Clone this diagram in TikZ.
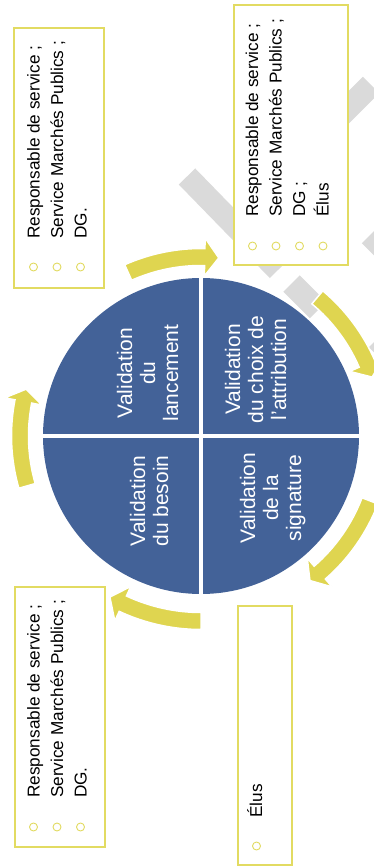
\documentclass[tikz,border=0pt]{standalone}
\usepackage{fontspec}
\setmainfont{Liberation Sans}
\definecolor{cblue}{RGB}{67,98,152}
\definecolor{cyellow}{RGB}{223,213,80}
\definecolor{cbox}{RGB}{226,219,98}
\definecolor{cgray}{RGB}{218,218,218}
\tikzset{
  qtext/.style={text=white, font=\fontsize{21}{23}\selectfont, rotate=90, anchor=base, inner sep=0pt},
  btext/.style={text=black, font=\fontsize{17.2}{23}\selectfont, rotate=90, anchor=base west, inner sep=0pt},
  infobox/.style={rectangle, draw=cbox, fill=white, line width=1.6pt, inner sep=0pt},
  bulletmark/.style={circle, draw=cbox, line width=0.9pt, minimum size=8pt, inner sep=0pt},
  grayband/.style={draw=cgray, line width=23pt},
  cyclearrowstyle/.style={fill=cyellow, draw=white, line width=1.5pt},
}
% #1 tail angle, #2 head base angle, #3 tip angle, #4 mid radius
\newcommand{\cyclearrow}[4]{%
  \pgfmathsetmacro{\cyRi}{#4-8.5}\pgfmathsetmacro{\cyRo}{#4+8.5}%
  \pgfmathsetmacro{\cyHi}{#4-19}\pgfmathsetmacro{\cyHo}{#4+19}%
  \filldraw[cyclearrowstyle] (#1:\cyRi) arc[start angle=#1, end angle=#2, radius=\cyRi]
    -- (#2:\cyHi) -- (#3:#4) -- (#2:\cyHo) -- (#2:\cyRo)
    arc[start angle=#2, end angle=#1, radius=\cyRo] -- cycle;}
\begin{document}
\begin{tikzpicture}[x=1pt,y=1pt]
\useasboundingbox (0,0) rectangle (374,-866);
\clip (0,0) rectangle (374,-866);

% gray background bands
\draw[grayband] (187,-176.5) -- (278,-270);
\draw[grayband] (291.5,-283.5) -- (318,-310);
\draw[grayband] (371,-85) -- (300,-156);
\draw[grayband] (370,-235) -- (420,-285);
\draw[grayband] (377,-339) -- (420,-382);

% central circle
\node[circle, fill=cblue, minimum size=316pt, inner sep=0pt] (c) at (201,-436) {};
\draw[white, line width=4pt] ([yshift=2pt]c.north) -- ([yshift=-2pt]c.south);
\draw[white, line width=4pt] ([xshift=-2pt]c.west) -- ([xshift=2pt]c.east);

% cycle arrows
\begin{scope}[shift={(c.center)}]
  \cyclearrow{196}{169}{165}{181}
  \cyclearrow{114}{88.8}{84.3}{179}
  \cyclearrow{50}{23.5}{19}{181}
  \cyclearrow{-21}{-49}{-53}{181}
  \cyclearrow{270}{245}{240.5}{185}
\end{scope}

% quadrant texts
\node[qtext] (q1a) at (132,-373) {Validation};
\node[qtext] (q1b) at (155,-373) {du};
\node[qtext] (q1c) at (178,-373) {lancement};
\node[qtext] (q2a) at (240,-369.5) {Validation};
\node[qtext] (q2b) at (263,-369.5) {du choix de};
\node[qtext] (q2c) at (286,-369.5) {l'attribution};
\node[qtext] (q3a) at (145,-501) {Validation};
\node[qtext] (q3b) at (168,-501) {du besoin};
\node[qtext] (q4a) at (255,-498) {Validation};
\node[qtext] (q4b) at (278,-498) {de la};
\node[qtext] (q4c) at (301,-498) {signature};

% box 1 (top left)
\node[infobox, minimum width=90pt, minimum height=260pt] (b1) at (59,-158) {};
\node[btext] (b1l1) at (39.5,-239) {Responsable de service ;};
\node[btext] (b1l2) at (63,-239) {Service Marchés Publics ;};
\node[btext] (b1l3) at (86.5,-239) {DG.};
\node[bulletmark] (b1d1) at (33.5,-267) {};
\node[bulletmark] (b1d2) at (57,-267) {};
\node[bulletmark] (b1d3) at (80.5,-267) {};

% box 2 (top right)
\node[infobox, minimum width=114pt, minimum height=260pt] (b2) at (291,-135) {};
\node[btext] (b2l1) at (258,-217) {Responsable de service ;};
\node[btext] (b2l2) at (281.5,-217) {Service Marchés Publics ;};
\node[btext] (b2l3) at (305,-217) {DG ;};
\node[btext] (b2l4) at (328.5,-217) {Élus};
\node[bulletmark] (b2d1) at (252.5,-246) {};
\node[bulletmark] (b2d2) at (276,-246) {};
\node[bulletmark] (b2d3) at (299.5,-246) {};
\node[bulletmark] (b2d4) at (323,-246) {};

% box 3 (bottom left)
\node[infobox, minimum width=90pt, minimum height=260pt] (b3) at (60,-717) {};
\node[btext] (b3l1) at (39.5,-798) {Responsable de service ;};
\node[btext] (b3l2) at (63,-798) {Service Marchés Publics ;};
\node[btext] (b3l3) at (86.5,-798) {DG.};
\node[bulletmark] (b3d1) at (33.5,-827) {};
\node[bulletmark] (b3d2) at (57,-827) {};
\node[bulletmark] (b3d3) at (80.5,-827) {};

% box 4 (bottom right)
\node[infobox, minimum width=54pt, minimum height=259pt] (b4) at (265,-735.5) {};
\node[btext] (b4l1) at (262,-818) {Élus};
\node[bulletmark] (b4d1) at (256.5,-846) {};
\end{tikzpicture}
\end{document}
